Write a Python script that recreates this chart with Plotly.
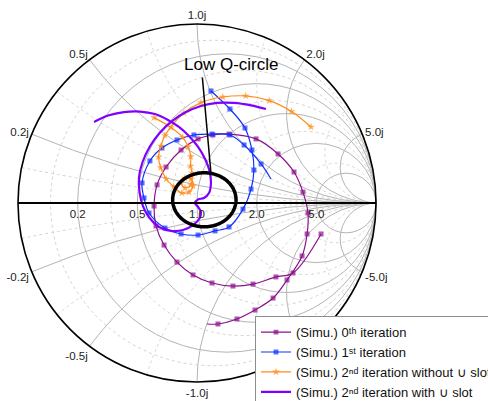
import numpy as np
import plotly.graph_objects as go

# ---- measured reflection coefficient S11 (real / imaginary parts) ----
iter0_re = [0.693, 0.536, 0.441, 0.313, 0.201, 0.084, -0.022, -0.112, -0.184, -0.229,
            -0.240, -0.223, -0.173, -0.089, 0.006, 0.089, 0.179, 0.330, 0.453, 0.542,
            0.592, 0.620, 0.615, 0.587, 0.503, 0.425, 0.324, 0.223, 0.117, 0.056]
iter0_im = [-0.173, -0.391, -0.413, -0.453, -0.464, -0.447, -0.402, -0.330, -0.235, -0.128,
            -0.017, 0.101, 0.201, 0.296, 0.358, 0.380, 0.385, 0.358, 0.274, 0.173,
            0.061, -0.056, -0.173, -0.296, -0.430, -0.531, -0.598, -0.648, -0.676, -0.676]

iter1_re = [0.078, 0.184, 0.268, 0.307, 0.318, 0.302, 0.257, 0.179, 0.101, 0.006,
            -0.089, -0.179, -0.268, -0.296, -0.307, -0.263, -0.196, -0.112, -0.017, 0.084,
            0.184, 0.263, 0.358, 0.413]
iter1_im = [0.626, 0.525, 0.419, 0.296, 0.184, 0.078, -0.034, -0.134, -0.156, -0.179,
            -0.173, -0.140, -0.056, 0.028, 0.112, 0.235, 0.307, 0.352, 0.380, 0.385,
            0.380, 0.324, 0.218, 0.134]

iter2_noslot_re = [0.637, 0.528, 0.404, 0.272, 0.144, 0.022, -0.073, -0.179, -0.201, -0.215,
                   -0.203, -0.172, -0.130, -0.085, -0.045, -0.022, -0.034, -0.067, -0.089, -0.067,
                   -0.034, -0.028, -0.036, -0.035, -0.050, -0.080, -0.145, -0.240]
iter2_noslot_im = [0.425, 0.511, 0.572, 0.598, 0.592, 0.561, 0.503, 0.377, 0.318, 0.257,
                   0.198, 0.134, 0.091, 0.056, 0.061, 0.095, 0.134, 0.140, 0.112, 0.084,
                   0.101, 0.168, 0.207, 0.259, 0.315, 0.367, 0.422, 0.477]

iter2_slot_re = [-0.575, -0.497, -0.408, -0.318, -0.235, -0.162, -0.101, -0.045, 0.006, 0.045,
                 0.070, 0.078, 0.067, 0.039, 0.006, -0.011, 0.006, 0.022, 0.014, -0.022,
                 -0.078, -0.145, -0.212, -0.265, -0.302, -0.321, -0.324, -0.304, -0.265, -0.209,
                 -0.140, -0.061, 0.022, 0.112, 0.207, 0.302, 0.385]
iter2_slot_im = [0.453, 0.489, 0.508, 0.511, 0.497, 0.464, 0.425, 0.374, 0.313, 0.246,
                 0.179, 0.112, 0.056, 0.028, 0.020, 0.000, -0.022, -0.050, -0.087, -0.123,
                 -0.151, -0.156, -0.134, -0.084, -0.017, 0.061, 0.145, 0.229, 0.313, 0.391,
                 0.458, 0.508, 0.542, 0.559, 0.559, 0.545, 0.525]

# Low-Q region (in the reflection-coefficient plane) and its pointer
lowq_center = (0.041, 0.018)
lowq_radii = (0.177, 0.151)
pointer_re = [0.030, 0.078]
pointer_im = [0.701, 0.166]

# chart grid
major_ticks = [0.2, 0.5, 1, 2, 5]
minor_ticks = [0.1, 0.35, 0.75, 1.5, 3.5]

legend_names = [
    "(Simu.) 0\u1d57\u02b0 iteration",
    "(Simu.) 1\u02e2\u1d57 iteration",
    "(Simu.) 2\u207f\u1d48 iteration without \u222a slot",
    "(Simu.) 2\u207f\u1d48 iteration with \u222a slot",
]

FONT = "Liberation Sans, Arial, sans-serif"


def gamma_to_z(re, im):
    g = np.asarray(re, dtype=float) + 1j * np.asarray(im, dtype=float)
    z = (1 + g) / (1 - g)
    return z.real, z.imag


fig = go.Figure()

# dotted minor grid: constant-resistance circles and constant-reactance arcs
for r in minor_ticks:
    th = np.linspace(0.03, 2 * np.pi - 0.03, 400)
    g = r / (1 + r) + np.exp(1j * th) / (1 + r)
    zr, zi = gamma_to_z(g.real, g.imag)
    fig.add_trace(go.Scattersmith(real=zr, imag=zi, mode="lines", showlegend=False,
                                  hoverinfo="skip",
                                  line=dict(color="#d2d2d2", width=1, dash="dot")))
    for x in (r, -r):
        rr = np.tan(np.linspace(0, np.pi / 2 - 0.002, 400))
        fig.add_trace(go.Scattersmith(real=rr, imag=np.full_like(rr, x), mode="lines",
                                      showlegend=False, hoverinfo="skip",
                                      line=dict(color="#d2d2d2", width=1, dash="dot")))


def series(re, im, name, color, symbol, size, width, last_marker=True):
    zr, zi = gamma_to_z(re, im)
    sizes = [size] * len(zr)
    if not last_marker:
        sizes[-1] = 0
    mode = "lines+markers" if symbol else "lines"
    return go.Scattersmith(real=zr, imag=zi, mode=mode, name=name,
                           line=dict(color=color, width=width, shape="spline", smoothing=1),
                           marker=dict(symbol=symbol or "circle", size=sizes, color=color,
                                       line=dict(width=0)))


fig.add_trace(series(iter0_re, iter0_im, legend_names[0], "#8b108b", "square", 5, 1.2,
                     last_marker=False))
fig.add_trace(series(iter1_re, iter1_im, legend_names[1], "#1030ff", "square", 5, 1.2,
                     last_marker=False))
fig.add_trace(series(iter2_noslot_re, iter2_noslot_im, legend_names[2], "#ff8c1a", "star",
                     6, 1.2))
fig.add_trace(series(iter2_slot_re, iter2_slot_im, legend_names[3], "#8000ff", None, 0, 2.2))

# Low-Q circle outline
t = np.linspace(0, 2 * np.pi, 241)
qr, qi = gamma_to_z(lowq_center[0] + lowq_radii[0] * np.cos(t),
                    lowq_center[1] + lowq_radii[1] * np.sin(t))
fig.add_trace(go.Scattersmith(real=qr, imag=qi, mode="lines", showlegend=False,
                              hoverinfo="skip", line=dict(color="black", width=3.5)))
pr, pi_ = gamma_to_z(pointer_re, pointer_im)
fig.add_trace(go.Scattersmith(real=pr, imag=pi_, mode="lines", showlegend=False,
                              hoverinfo="skip", line=dict(color="black", width=1.5)))

imag_ticks = [-v for v in major_ticks[::-1]] + major_ticks
imag_alias = {}
for v in major_ticks:
    imag_alias[f"{v:.1f}"] = f"{v:.1f}j"
    imag_alias[f"\u2212{v:.1f}"] = f"-{v:.1f}j"

fig.update_layout(
    width=488, height=401,
    margin=dict(l=18, r=112, t=24, b=19, autoexpand=False),
    paper_bgcolor="white",
    font=dict(family=FONT, color="#222"),
    smith=dict(
        domain=dict(x=[0, 1], y=[0, 1]),
        bgcolor="white",
        realaxis=dict(tickvals=major_ticks, tickformat=".1f", ticks="", tickangle=0,
                      side="bottom", showline=True, linecolor="black", linewidth=2,
                      gridcolor="#b4b4b4", gridwidth=1,
                      tickfont=dict(size=11.5, family=FONT, color="#222")),
        imaginaryaxis=dict(tickvals=imag_ticks, tickformat=".1f", ticks="",
                           showline=True, linecolor="black", linewidth=1.6,
                           gridcolor="#b4b4b4", gridwidth=1, labelalias=imag_alias,
                           tickfont=dict(size=11.5, family=FONT, color="#222")),
    ),
    # blank out the automatic infinity label at the open-circuit point
    shapes=[dict(type="rect", xref="paper", yref="paper", x0=1.004, x1=1.08,
                 y0=0.465, y1=0.535, fillcolor="white", line=dict(width=0), layer="above")],
    legend=dict(x=0.662, y=0.184, xanchor="left", yanchor="top",
                bgcolor="white", bordercolor="#8c8c8c", borderwidth=1,
                font=dict(size=13, family=FONT, color="#111"),
                tracegroupgap=0, itemwidth=30),
    annotations=[dict(text="Low Q-circle", x=0.596, y=0.8855, xref="paper", yref="paper",
                      showarrow=False, xanchor="center", yanchor="middle",
                      font=dict(size=17, family=FONT, color="black"))],
)

fig.write_html("out.html")
